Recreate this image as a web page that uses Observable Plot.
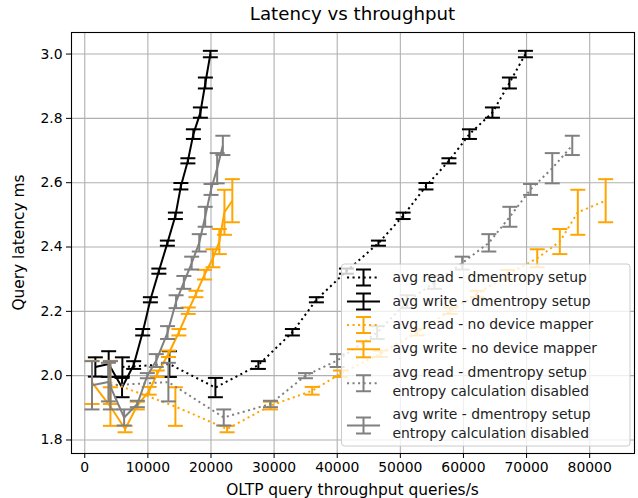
<!DOCTYPE html>
<html><head><meta charset="utf-8">
<script src="https://cdn.jsdelivr.net/npm/d3@7"></script>
<script src="https://cdn.jsdelivr.net/npm/@observablehq/plot@0.6"></script>
<style>body{margin:0;background:#fff;} svg{display:block;}</style>
</head><body><div id="chart"></div>
<script>
// dmentropy setup (black)
const dmLatency = [2.027, 2.036, 1.963, 2.033, 2.135, 2.236, 2.325, 2.412, 2.497, 2.589, 2.668, 2.751, 2.818, 2.910, 3.000];
const dmError   = [0.030, 0.040, 0.030, 0.012, 0.010, 0.008, 0.008, 0.008, 0.010, 0.010, 0.008, 0.015, 0.016, 0.017, 0.010];
const dmReadQps  = [5960, 13410, 20700, 27510, 32900, 36700, 41460, 46530, 50440, 54060, 57700, 60950, 64590, 67280, 69820];
const dmWriteQps = [1680, 3790, 5910, 7750, 9180, 10400, 11740, 13090, 14360, 15230, 16340, 17210, 18320, 19110, 19900];
// no device mapper (orange)
const ndLatency = [1.979, 1.904, 1.834, 1.907, 1.953, 2.006, 2.068, 2.135, 2.202, 2.254, 2.314, 2.365, 2.417, 2.508, 2.544];
const ndError   = [0.067, 0.060, 0.010, 0.012, 0.012, 0.010, 0.010, 0.010, 0.010, 0.010, 0.015, 0.028, 0.039, 0.070, 0.067];
const ndReadQps  = [4060, 14360, 22550, 29420, 36030, 40510, 46850, 52670, 57900, 62180, 67000, 71690, 75270, 78120, 82530];
const ndWriteQps = [1150, 4070, 6390, 8330, 10210, 11480, 13270, 14920, 16400, 17610, 18980, 20310, 21320, 22130, 23380];
// dmentropy setup, entropy calculation disabled (gray)
const edLatency = [1.970, 1.980, 1.870, 1.912, 2.000, 2.047, 2.134, 2.230, 2.290, 2.350, 2.413, 2.494, 2.579, 2.645, 2.716];
const edError   = [0.075, 0.060, 0.025, 0.010, 0.008, 0.020, 0.020, 0.020, 0.020, 0.020, 0.027, 0.031, 0.017, 0.047, 0.030];
const edReadQps  = [4060, 13250, 22020, 29420, 34970, 39990, 46330, 51080, 55410, 59800, 64020, 67350, 70630, 74070, 77240];
const edWriteQps = [1150, 3750, 6240, 8330, 9910, 11330, 13120, 14470, 15700, 16940, 18140, 19080, 20010, 20980, 21880];

const seriesLabels = [
  ["avg read - dmentropy setup"],
  ["avg write - dmentropy setup"],
  ["avg read - no device mapper"],
  ["avg write - no device mapper"],
  ["avg read - dmentropy setup", "entropy calculation disabled"],
  ["avg write - dmentropy setup", "entropy calculation disabled"]
];
const seriesColors = ["black", "black", "orange", "orange", "gray", "gray"];
const seriesDotted = [true, false, true, false, true, false];
const xTicks = [0, 10000, 20000, 30000, 40000, 50000, 60000, 70000, 80000];
const yTicks = [1.8, 2.0, 2.2, 2.4, 2.6, 2.8, 3.0];
const titleText = "Latency vs throughput";
const xLabel = "OLTP query throughput queries/s";
const yLabel = "Query latency ms";

const seriesData = [
  [dmReadQps, dmLatency, dmError],
  [dmWriteQps, dmLatency, dmError],
  [ndReadQps, ndLatency, ndError],
  [ndWriteQps, ndLatency, ndError],
  [edReadQps, edLatency, edError],
  [edWriteQps, edLatency, edError]
].map(([xs, ys, es]) => xs.map((x, i) => ({x, y: ys[i], e: es[i]})));

const CAP = 7.5;
const capSymbol = {draw(ctx) { ctx.moveTo(-CAP, 0); ctx.lineTo(CAP, 0); }};
const LW = 2;
const DOT = "2.08,3.44";

const seriesMarks = seriesData.flatMap((rows, k) => {
  const c = seriesColors[k];
  return [
    Plot.line(rows, {x: "x", y: "y", stroke: c, strokeWidth: LW, strokeDasharray: seriesDotted[k] ? DOT : null, strokeLinecap: "butt", strokeLinejoin: "round"}),
    Plot.ruleX(rows, {x: "x", y1: d => d.y - d.e, y2: d => d.y + d.e, stroke: c, strokeWidth: LW}),
    Plot.dot(rows, {x: "x", y: d => d.y - d.e, symbol: capSymbol, stroke: c, strokeWidth: LW, fill: "none", r: 3}),
    Plot.dot(rows, {x: "x", y: d => d.y + d.e, symbol: capSymbol, stroke: c, strokeWidth: LW, fill: "none", r: 3})
  ];
});

const W = 638, H = 498, ML = 71, MR = 4, MT = 32, MB = 45;
const chart = Plot.plot({
  width: W, height: H,
  marginLeft: ML, marginRight: MR, marginTop: MT, marginBottom: MB,
  style: {fontFamily: "DejaVu Sans", fontSize: "13.9px", background: "white", color: "black", overflow: "visible"},
  x: {domain: [-2100, 87100], label: null},
  y: {domain: [1.758, 3.067], label: null},
  marks: [
    Plot.gridX(xTicks, {stroke: "#b0b0b0", strokeOpacity: 1, strokeWidth: 1.1}),
    Plot.gridY(yTicks, {stroke: "#b0b0b0", strokeOpacity: 1, strokeWidth: 1.1}),
    Plot.axisX(xTicks, {tickFormat: d3.format("d"), tickSize: 5, tickPadding: 4, label: null, fontSize: 13.9}),
    Plot.axisY(yTicks, {tickFormat: d3.format(".1f"), tickSize: 5, tickPadding: 4, label: null, fontSize: 13.9}),
    ...seriesMarks,
    Plot.frame({stroke: "black", strokeWidth: 1.1})
  ]
});
document.getElementById("chart").appendChild(chart);

const svg = d3.select(chart);
const cx = (ML + W - MR) / 2;
svg.append("text").attr("x", cx).attr("y", 15).attr("text-anchor", "middle").attr("dominant-baseline", "middle")
  .attr("font-size", 18.2).attr("font-family", "DejaVu Sans").attr("fill", "black").text(titleText);
svg.append("text").attr("x", cx).attr("y", 490).attr("text-anchor", "middle").attr("dominant-baseline", "middle")
  .attr("font-size", 15.4).attr("font-family", "DejaVu Sans").attr("fill", "black").text(xLabel);
svg.append("text").attr("transform", `translate(19,${(MT + H - MB) / 2}) rotate(-90)`).attr("text-anchor", "middle").attr("dominant-baseline", "middle")
  .attr("font-size", 15.4).attr("font-family", "DejaVu Sans").attr("fill", "black").text(yLabel);

// legend
const lg = svg.append("g");
const LX0 = 341.5, LY0 = 264, LX1 = 630, LY1 = 446;
lg.append("rect").attr("x", LX0).attr("y", LY0).attr("width", LX1 - LX0).attr("height", LY1 - LY0)
  .attr("rx", 3).attr("fill", "white").attr("fill-opacity", 0.8).attr("stroke", "#cccccc").attr("stroke-width", 1);
const rowYs = [[277.5], [301.5], [325], [349.3], [373, 391.5], [415, 434]];
seriesLabels.forEach((lines, k) => {
  const ys = rowYs[k];
  const hy = (ys[0] + ys[ys.length - 1]) / 2 + (ys.length > 1 ? 1 : 0);
  const c = seriesColors[k];
  const hx0 = 347, hx1 = 380, hc = 363.5, hh = 8;
  lg.append("line").attr("x1", hx0).attr("x2", hx1).attr("y1", hy).attr("y2", hy).attr("stroke", c).attr("stroke-width", LW)
    .attr("stroke-dasharray", seriesDotted[k] ? DOT : null);
  lg.append("line").attr("x1", hc).attr("x2", hc).attr("y1", hy - hh).attr("y2", hy + hh).attr("stroke", c).attr("stroke-width", LW);
  [hy - hh, hy + hh].forEach(yy => lg.append("line").attr("x1", hc - CAP).attr("x2", hc + CAP).attr("y1", yy).attr("y2", yy).attr("stroke", c).attr("stroke-width", LW));
  lines.forEach((t, j) => lg.append("text").attr("x", 392.5).attr("y", ys[j]).attr("text-anchor", "start").attr("dominant-baseline", "middle")
    .attr("font-size", 13.9).attr("font-family", "DejaVu Sans").attr("fill", "#222").text(t));
});
</script>
</body></html>
